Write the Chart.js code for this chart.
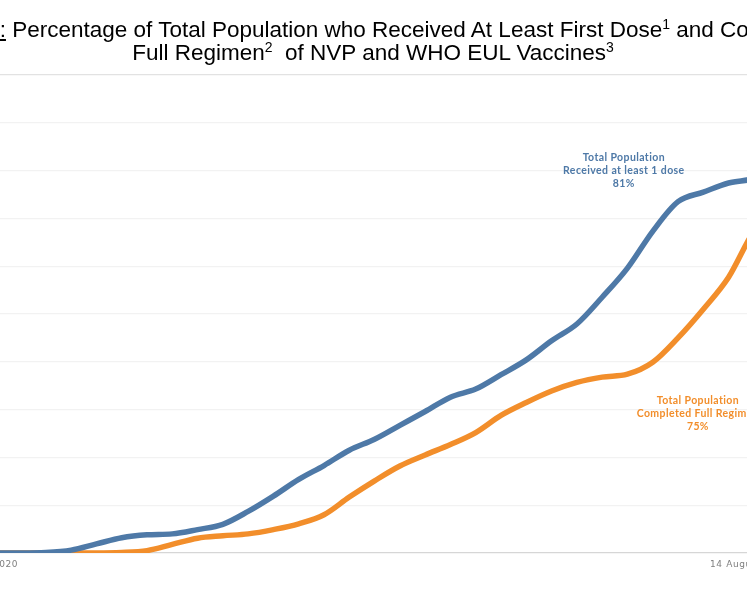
<!DOCTYPE html>
<html>
<head>
<meta charset="utf-8">
<script src="https://cdn.jsdelivr.net/npm/chart.js@4.4.1/dist/chart.umd.min.js"></script>
<style>
  html, body { margin: 0; padding: 0; background: #fff; overflow: hidden; width: 747px; height: 598px; }
  #title {
    position: absolute; left: 373px; top: 18px; transform: translateX(-50%);
    white-space: nowrap; text-align: center;
    font-family: "Liberation Sans", Arial, sans-serif; font-size: 22.5px; line-height: 23px; color: #000;
    z-index: 2;
  }
  #title sup { font-size: 14px; line-height: 0; vertical-align: 8px; }
  #wrap { position: absolute; left: -30px; top: 0; width: 860px; height: 598px; }
</style>
</head>
<body>
<div id="title"><u>Figure 1:</u> Percentage of Total Population who Received At Least First Dose<sup>1</sup> and Completed<br>Full Regimen<sup>2</sup>&nbsp; of NVP and WHO EUL Vaccines<sup>3</sup></div>
<div id="wrap"><canvas id="myChart"></canvas></div>
<script>
const days = [0, 7, 14, 21, 28, 35, 42, 49, 56, 63, 70, 77, 84, 91, 98, 105, 112, 119, 126,
              133, 140, 147, 154, 161, 168, 175, 182, 189, 196, 203, 210, 217, 224, 227];
const firstDose = [0, 0, 0, 0.1, 0.6, 1.9, 3.2, 3.8, 4.0, 4.9, 6.0, 8.7, 11.9, 15.4, 18.3, 21.5, 23.8, 26.7, 29.6,
                   32.6, 34.3, 37.3, 40.4, 44.4, 47.9, 53.5, 59.6, 67.3, 73.5, 75.5, 77.4, 78.3, 80.3, 81];
const fullRegimen = [0, 0, 0, 0, 0, 0, 0.1, 0.5, 1.8, 3.1, 3.6, 4.0, 4.9, 6.1, 8.0, 11.7, 15.1, 18.2, 20.5,
                     22.7, 25.2, 28.8, 31.5, 33.9, 35.7, 36.8, 37.4, 39.9, 45.0, 51.0, 57.7, 67.3, 72.5, 75];
const tickLabels = ["30 December 2020", "14 August 2021"];
const blueNote = ["Total Population", "Received at least 1 dose", "81%"];
const orangeNote = ["Total Population", "Completed Full Regimen", "75%"];

const blue = '#4e79a7';
const orange = '#f28e2b';

// x tick labels and the two notes, placed through the chart scales
const notes = {
  id: 'notes',
  afterDraw(chart) {
    const c = chart.ctx, x = chart.scales.x, y = chart.scales.y;
    c.save();
    c.font = '9px "DejaVu Sans"';
    c.letterSpacing = '0.6px';
    c.fillStyle = '#7f7f7f';
    c.textBaseline = 'middle';
    const ty = chart.chartArea.bottom + 12;
    c.textAlign = 'center';
    c.fillText(tickLabels[0], x.getPixelForValue(days[0]), ty);
    c.textAlign = 'right';
    c.fillText(tickLabels[1], x.getPixelForValue(days[days.length - 1]), ty);

    c.letterSpacing = '0.4px';
    c.font = 'bold 10.5px Lato';
    c.textAlign = 'center';
    c.fillStyle = blue;
    blueNote.forEach((t, i) => c.fillText(t, x.getPixelForValue(181), y.getPixelForValue(80) + (i - 1) * 13));
    c.fillStyle = orange;
    orangeNote.forEach((t, i) => c.fillText(t, x.getPixelForValue(201.5), y.getPixelForValue(29.2) + (i - 1) * 13));
    c.restore();
  }
};

var ctx = document.getElementById('myChart').getContext('2d');

var mychart = new Chart(ctx, {
  type: 'line',
  data: {
    datasets: [{
      label: 'Received at least 1 dose',
      data: days.map((d, i) => ({ x: d, y: firstDose[i] })),
      borderColor: blue,
      borderWidth: 5.5,
      pointRadius: 0,
      cubicInterpolationMode: 'monotone'
    }, {
      label: 'Completed Full Regimen',
      data: days.map((d, i) => ({ x: d, y: fullRegimen[i] })),
      borderColor: orange,
      borderWidth: 5.5,
      pointRadius: 0,
      cubicInterpolationMode: 'monotone'
    }]
  },
  options: {
    responsive: true,
    maintainAspectRatio: false,
    animation: false,
    layout: { padding: { top: 75, bottom: 45, left: 0, right: 40 } },
    plugins: { legend: { display: false }, tooltip: { enabled: false } },
    scales: {
      x: { type: 'linear', min: 0, max: 227, display: false },
      y: {
        min: 0, max: 100,
        ticks: { display: false, stepSize: 10 },
        border: { display: false },
        grid: {
          drawTicks: false,
          lineWidth: 1.2,
          color: (c) => c.tick.value === 0 ? '#d6d6d6' : (c.tick.value === 100 ? '#e2e2e2' : '#f2f2f2')
        }
      }
    }
  },
  plugins: [notes]
});
</script>
</body>
</html>
